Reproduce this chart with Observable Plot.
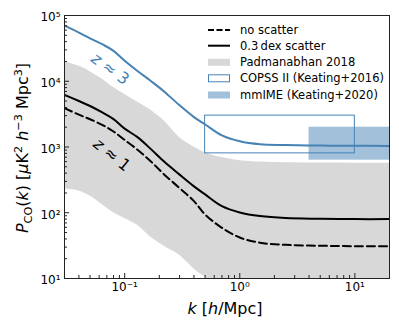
<!DOCTYPE html>
<html><head><meta charset="utf-8">
<script src="https://cdn.jsdelivr.net/npm/d3@7"></script>
<script src="https://cdn.jsdelivr.net/npm/@observablehq/plot@0.6"></script>
<style>
body{margin:0;background:#fff;font-family:"DejaVu Sans",sans-serif}
#chart{position:relative;width:399px;height:332px}
</style>
</head><body><div id="chart"></div>
<script>
// ---- data ----
const k          = [0.03, 0.04, 0.05, 0.065, 0.08, 0.1, 0.13, 0.17, 0.22, 0.3, 0.4, 0.5, 0.7, 1.0, 1.5, 2.5, 5, 10, 20];
const pZ3        = [7.0e4, 5.5e4, 4.5e4, 3.6e4, 2.9e4, 2.05e4, 1.42e4, 1.0e4, 7.0e3, 4.3e3, 2.85e3, 2.2e3, 1.5e3, 1.22e3, 1.1e3, 1.07e3, 1.05e3, 1.045e3, 1.04e3];
const pScatter   = [6.2e3, 5.0e3, 4.2e3, 3.3e3, 2.65e3, 1.9e3, 1.4e3, 920, 600, 380, 252, 190, 126, 101, 89, 83, 81, 80, 80];
const pNoScatter = [3.9e3, 3.1e3, 2.64e3, 2.13e3, 1.72e3, 1.28e3, 900, 597, 383, 237, 150, 94, 59, 42, 35, 32.5, 31.5, 31, 31];
const bandHigh   = [2.0e4, 1.7e4, 1.4e4, 1.05e4, 8.0e3, 6.3e3, 4.8e3, 3.6e3, 2.5e3, 1.38e3, 1.0e3, 820, 690, 620, 590, 575, 570, 568, 566];
const bandLow    = [230, 215, 180, 130, 100, 82, 64, 42, 31, 22.5, 14, 10.5, 6.5, 4.5, 3.5, 3, 2.5, 2.2, 2];
const copssK = [0.5, 10],  copssP = [800, 3000];
const mmimeK = [4, 30],    mmimeP = [630, 2000];
const labelTexts = ["z ≈ 3", "z ≈ 1"];
const labelK = [0.0748, 0.0774];
const labelP = [1.535e4, 757];
const xMajor = [0.1, 1, 10];
const xMinor = [0.04,0.05,0.06,0.07,0.08,0.09,0.2,0.3,0.4,0.5,0.6,0.7,0.8,0.9,2,3,4,5,6,7,8,9,20];
const yMajor = [10, 100, 1000, 10000, 100000];
const yMinor = [20,30,40,50,60,70,80,90,200,300,400,500,600,700,800,900,2000,3000,4000,5000,6000,7000,8000,9000,20000,30000,40000,50000,60000,70000,80000,90000];
const legendLabels = ["no scatter", "0.3\u2009dex scatter", "Padmanabhan 2018", "COPSS II (Keating+2016)", "mmIME (Keating+2020)"];

const BLUE = "#4682b4", GRAY = "#d8d8d8";
const rows = k.map((kk, i) => ({k: kk, z3: pZ3[i], s: pScatter[i], n: pNoScatter[i], lo: bandLow[i], hi: bandHigh[i]}));
const boxes = [{x1: copssK[0], x2: copssK[1], y1: copssP[0], y2: copssP[1]}];
const boxes2 = [{x1: mmimeK[0], x2: mmimeK[1], y1: mmimeP[0], y2: mmimeP[1]}];
const sup = {"-":"\u207b","0":"\u2070","1":"\u00b9","2":"\u00b2","3":"\u00b3","4":"\u2074","5":"\u2075","6":"\u2076","7":"\u2077","8":"\u2078","9":"\u2079"};
const fmt = v => "10" + String(Math.round(Math.log10(v))).replace(/./g, c => sup[c]);
const CURVE = "catmull-rom";

const svg = Plot.plot({
  width: 399, height: 332,
  marginLeft: 64, marginRight: 10, marginTop: 15, marginBottom: 54,
  style: {fontFamily: "DejaVu Sans", fontSize: "12px", background: "#fff", color: "#000"},
  x: {type: "log", domain: [0.03, 20]},
  y: {type: "log", domain: [10, 1e5]},
  marks: [
    Plot.areaY(rows, {x: "k", y1: "lo", y2: "hi", fill: GRAY, curve: CURVE, clip: true}),
    Plot.lineY(rows, {x: "k", y: "n", stroke: "#000", strokeWidth: 2, strokeDasharray: "8,4", curve: CURVE, clip: true}),
    Plot.lineY(rows, {x: "k", y: "s", stroke: "#000", strokeWidth: 2, curve: CURVE, clip: true}),
    Plot.lineY(rows, {x: "k", y: "z3", stroke: BLUE, strokeWidth: 2, curve: CURVE, clip: true}),
    Plot.rect(boxes, {x1: "x1", x2: "x2", y1: "y1", y2: "y2", fill: "none", stroke: BLUE, strokeWidth: 1, clip: true}),
    Plot.rect(boxes2, {x1: "x1", x2: "x2", y1: "y1", y2: "y2", fill: BLUE, fillOpacity: 0.5, clip: true}),
    Plot.text([0], {x: [labelK[0]], y: [labelP[0]], text: [labelTexts[0]], rotate: 36, fill: BLUE, fontSize: 16, textAnchor: "middle", lineAnchor: "middle"}),
    Plot.text([0], {x: [labelK[1]], y: [labelP[1]], text: [labelTexts[1]], rotate: 39, fill: "#000", fontSize: 16, textAnchor: "middle", lineAnchor: "middle"}),
    Plot.frame({stroke: "#222", strokeWidth: 1}),
    // inward ticks
    Plot.axisX({ticks: xMajor, tickSize: 5, dy: -5, tickFormat: () => "", label: null, stroke: "#222"}),
    Plot.axisX({ticks: xMinor, tickSize: 3, dy: -3, tickFormat: () => "", label: null, stroke: "#222"}),
    Plot.axisY({ticks: yMajor, tickSize: 5, dx: 5, tickFormat: () => "", label: null, stroke: "#222"}),
    Plot.axisY({ticks: yMinor, tickSize: 3, dx: 3, tickFormat: () => "", label: null, stroke: "#222"}),
    // tick labels
    Plot.axisX({ticks: xMajor, tickSize: 0, tickPadding: 4, tickFormat: fmt, label: null, fontSize: 12}),
    Plot.axisY({ticks: yMajor, tickSize: 0, tickPadding: 4, tickFormat: fmt, label: null, fontSize: 12, dy: 2})
  ]
});
document.getElementById("chart").appendChild(svg);

const s = d3.select(svg);
// italic z in the curve labels
s.selectAll("text").each(function() {
  const t = this.textContent;
  if (labelTexts.includes(t) && this.childElementCount === 0) {
    const el = d3.select(this);
    el.text(null);
    el.append("tspan").attr("font-style", "italic").text("z");
    el.append("tspan").text(t.slice(1));
  }
});

function rich(parent, parts, size) {
  let shift = 0;
  for (const p of parts) {
    const ts = parent.append("tspan").text(p.t);
    let target = 0, fs = size;
    if (p.sup) { target = -size * 0.38; fs = size * 0.7; }
    if (p.sub) { target = size * 0.22; fs = size * 0.7; }
    ts.attr("dy", target - shift).attr("font-size", fs);
    if (p.i) ts.attr("font-style", "italic");
    shift = target;
  }
}
// y label
const yl = s.append("text").attr("transform", "translate(28,148) rotate(-90)")
  .attr("text-anchor", "middle").attr("font-family", "DejaVu Sans").attr("font-size", 16).attr("fill", "#000");
rich(yl, [{t: "P", i: 1}, {t: "CO", sub: 1}, {t: "("}, {t: "k", i: 1}, {t: ") ["}, {t: "\u03bc", i: 1}, {t: "K"}, {t: "2", sup: 1},
  {t: " "}, {t: "h", i: 1}, {t: "\u22123", sup: 1}, {t: " Mpc"}, {t: "3", sup: 1}, {t: "]"}], 16);
// x label
const xl = s.append("text").attr("transform", "translate(225,314)")
  .attr("text-anchor", "middle").attr("font-family", "DejaVu Sans").attr("font-size", 16).attr("fill", "#000");
rich(xl, [{t: "k", i: 1}, {t: " ["}, {t: "h", i: 1}, {t: "/Mpc]"}], 16);

// legend
const ly = [30, 45.7, 62.3, 78.3, 95];
const lg = s.append("g").attr("font-family", "DejaVu Sans").attr("font-size", 11.5).attr("text-anchor", "start");
const hx0 = 208, hx1 = 230;
lg.append("line").attr("x1", hx0).attr("x2", hx1).attr("y1", ly[0]).attr("y2", ly[0]).attr("stroke", "#000").attr("stroke-width", 2).attr("stroke-dasharray", "6,2.5");
lg.append("line").attr("x1", hx0).attr("x2", hx1).attr("y1", ly[1]).attr("y2", ly[1]).attr("stroke", "#000").attr("stroke-width", 2);
lg.append("rect").attr("x", hx0).attr("width", hx1 - hx0).attr("y", ly[2] - 3.5).attr("height", 7).attr("fill", GRAY);
lg.append("rect").attr("x", hx0 + 0.5).attr("width", hx1 - hx0 - 1).attr("y", ly[3] - 3.5).attr("height", 7).attr("fill", "none").attr("stroke", BLUE);
lg.append("rect").attr("x", hx0).attr("width", hx1 - hx0).attr("y", ly[4] - 3.5).attr("height", 7).attr("fill", BLUE).attr("fill-opacity", 0.5);
legendLabels.forEach((t, i) => {
  lg.append("text").attr("x", 240).attr("y", ly[i]).attr("dy", "0.35em").attr("text-anchor", "start").attr("fill", "#000").text(t);
});
</script>
</body></html>
